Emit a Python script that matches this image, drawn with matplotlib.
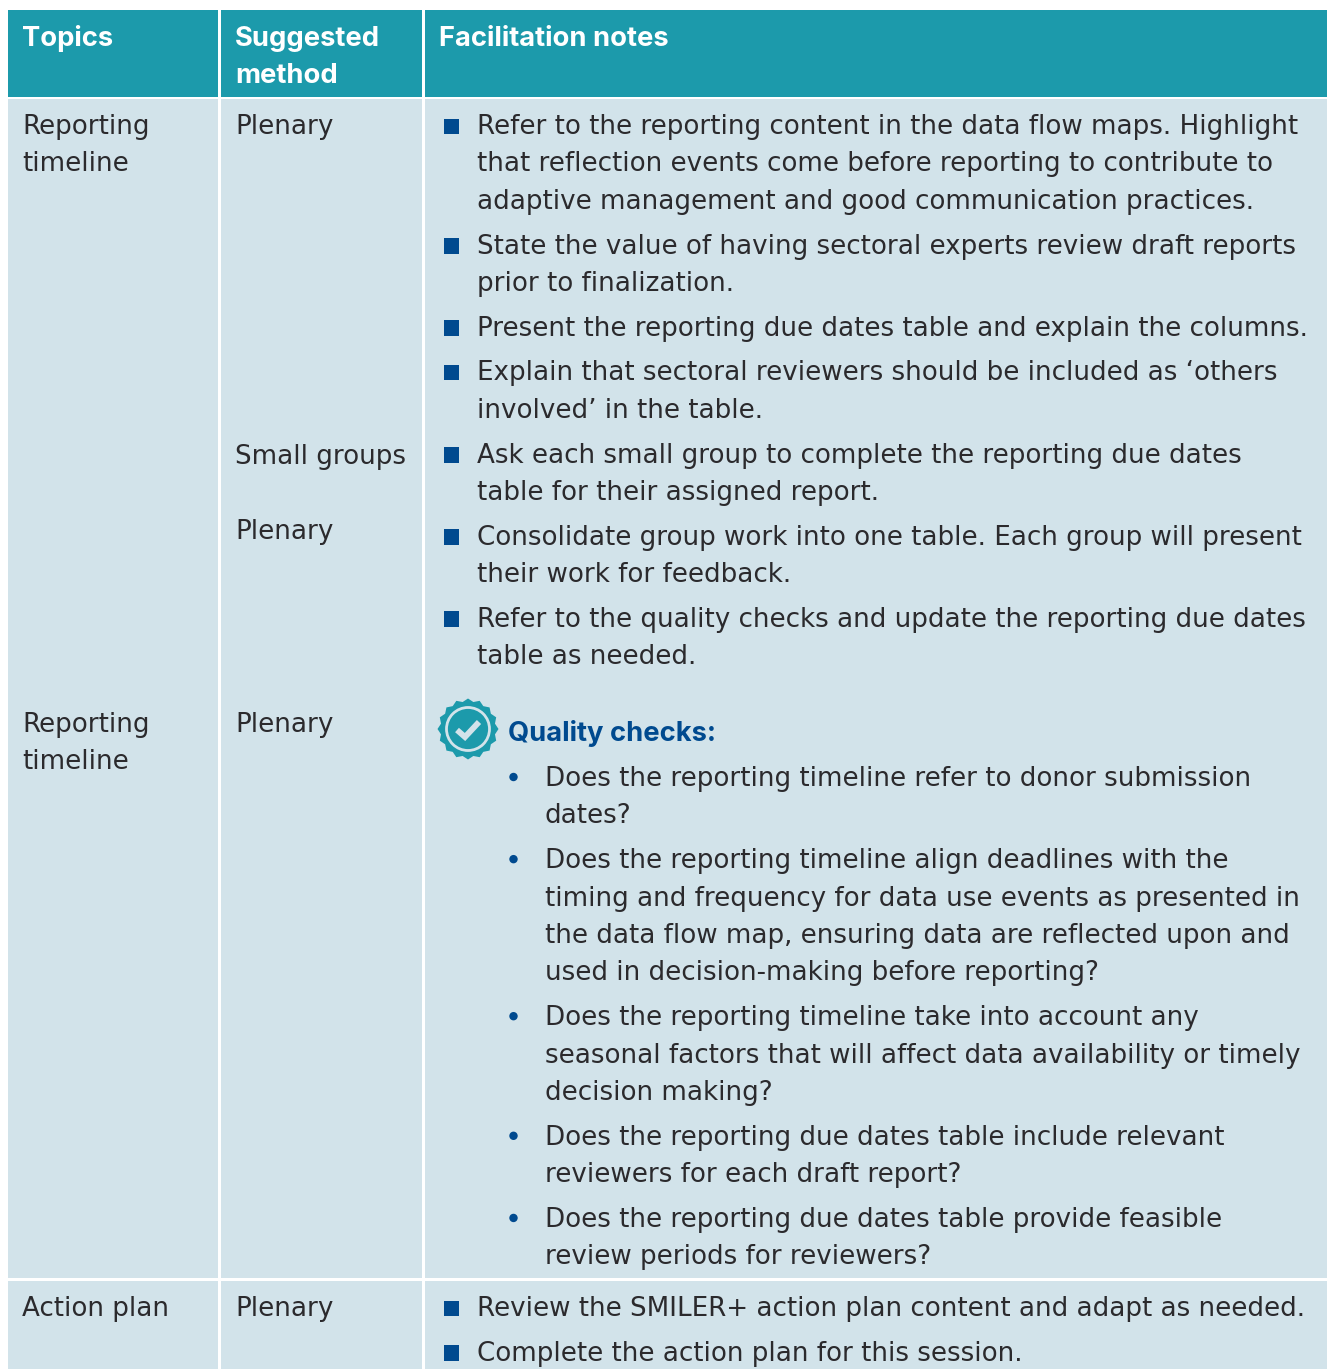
"""Facilitation table: topics, suggested method and notes, drawn on a pixel grid."""

import matplotlib

matplotlib.use("Agg")
import matplotlib.pyplot as plt
import numpy as np
from matplotlib.patches import Circle, Polygon, Rectangle

W, H = 1327, 1369
TEAL = "#1c9aab"
BODY = "#d2e3ea"
NAVY = "#004a8f"
INK = "#2b2a2d"
FONT = ["DejaVu Sans"]
BOLD_FONT = ["Inter", "DejaVu Sans"]
SIZE = 18.8
BOLD_SIZE = 19.7

PITCH = 37.45
GAP = 44.7

HEADERS = [["Topics"], ["Suggested", "method"], ["Facilitation notes"]]

TOPIC_1 = ["Reporting", "timeline"]
TOPIC_2 = ["Reporting", "timeline"]
TOPIC_3 = ["Action plan"]

METHODS = ["Plenary", "Small groups", "Plenary", "Plenary", "Plenary"]

NOTES_1 = [
    [
        "Refer to the reporting content in the data flow maps. Highlight",
        "that reflection events come before reporting to contribute to",
        "adaptive management and good communication practices.",
    ],
    ["State the value of having sectoral experts review draft reports", "prior to finalization."],
    ["Present the reporting due dates table and explain the columns."],
    ["Explain that sectoral reviewers should be included as ‘others", "involved’ in the table."],
    ["Ask each small group to complete the reporting due dates", "table for their assigned report."],
    ["Consolidate group work into one table. Each group will present", "their work for feedback."],
    ["Refer to the quality checks and update the reporting due dates", "table as needed."],
]

QUALITY_TITLE = "Quality checks:"
QUALITY = [
    ["Does the reporting timeline refer to donor submission", "dates?"],
    [
        "Does the reporting timeline align deadlines with the",
        "timing and frequency for data use events as presented in",
        "the data flow map, ensuring data are reflected upon and",
        "used in decision-making before reporting?",
    ],
    [
        "Does the reporting timeline take into account any",
        "seasonal factors that will affect data availability or timely",
        "decision making?",
    ],
    ["Does the reporting due dates table include relevant", "reviewers for each draft report?"],
    ["Does the reporting due dates table provide feasible", "review periods for reviewers?"],
]

NOTES_2 = [
    ["Review the SMILER+ action plan content and adapt as needed."],
    ["Complete the action plan for this session."],
]


def put(ax, x, y, s, bold=False, **kw):
    kw.setdefault("color", INK)
    if bold:
        ax.text(x, y, s, va="baseline", ha="left", family=BOLD_FONT, fontsize=BOLD_SIZE, fontweight="bold", **kw)
    else:
        ax.text(x, y, s, va="baseline", ha="left", family=FONT, fontsize=SIZE, **kw)


def cell(ax, x0, x1, y0, y1, color):
    ax.add_patch(Rectangle((x0, y0), x1 - x0, y1 - y0, facecolor=color, edgecolor="none"))


def stacked(ax, x, y, lines):
    for i, line in enumerate(lines):
        put(ax, x, y + i * PITCH, line)


def square_list(ax, y, items):
    """Items with square markers; y is the first baseline."""
    for item in items:
        ax.add_patch(Rectangle((444, y - 15.5), 15, 15.5, facecolor=NAVY, edgecolor="none"))
        stacked(ax, 477, y, item)
        y += (len(item) - 1) * PITCH + GAP


def dot_list(ax, y, items):
    for item in items:
        ax.add_patch(Circle((513.5, y - 9), 4.2, facecolor=NAVY, edgecolor="none"))
        stacked(ax, 545, y, item)
        y += (len(item) - 1) * PITCH + GAP


def badge(ax, cx, cy):
    n = 32
    ang = np.linspace(0, 2 * np.pi, n, endpoint=False) - np.pi / 2
    rad = np.where(np.arange(n) % 2 == 0, 30.5, 27.5)
    ax.add_patch(Polygon(np.c_[cx + rad * np.cos(ang), cy + rad * np.sin(ang)], facecolor=TEAL, edgecolor="none"))
    ax.add_patch(Circle((cx, cy), 21.5, facecolor=TEAL, edgecolor=BODY, linewidth=2.0))
    ax.plot(
        [cx - 11, cx - 3, cx + 11],
        [cy + 1, cy + 8, cy - 7],
        color=BODY,
        linewidth=4.2,
        solid_capstyle="butt",
        solid_joinstyle="miter",
    )


def main():
    fig = plt.figure(figsize=(W / 100, H / 100), dpi=100, facecolor="white")
    ax = fig.add_axes([0, 0, 1, 1])
    ax.set_xlim(0, W)
    ax.set_ylim(H, 0)
    ax.axis("off")

    columns = [(7.5, 218), (221, 422), (425, W)]
    for x0, x1 in columns:
        cell(ax, x0, x1, 10, 96.5, TEAL)
        cell(ax, x0, x1, 99, 1278, BODY)
        cell(ax, x0, x1, 1281, H, BODY)

    for x, head in zip((22, 235, 439), HEADERS):
        for i, line in enumerate(head):
            put(ax, x, 46 + i * PITCH, line, bold=True, color="white")

    stacked(ax, 22, 134, TOPIC_1)
    stacked(ax, 22, 732, TOPIC_2)
    stacked(ax, 22, 1316, TOPIC_3)

    for y, method in zip((134, 464, 539, 732, 1316), METHODS):
        put(ax, 235, y, method)

    square_list(ax, 134, NOTES_1)
    badge(ax, 468, 729)
    put(ax, 508, 741, QUALITY_TITLE, bold=True, color=NAVY)
    dot_list(ax, 786, QUALITY)
    square_list(ax, 1316, NOTES_2)

    fig.savefig("out.png", dpi=100, facecolor="white")
    plt.close(fig)


if __name__ == "__main__":
    main()
